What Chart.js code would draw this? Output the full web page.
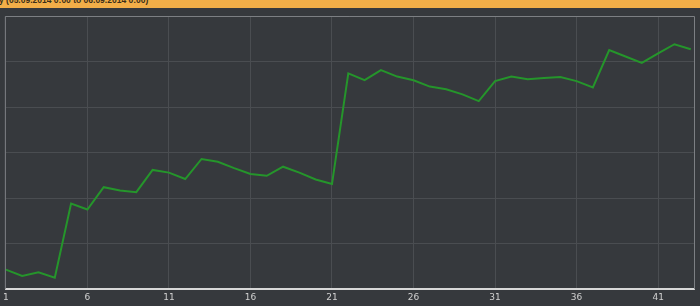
<!DOCTYPE html>
<html>
<head>
<meta charset="utf-8">
<script src="https://cdn.jsdelivr.net/npm/chart.js@4"></script>
<style>
  html, body { margin: 0; padding: 0; background: #36393d; }
  #wrap { position: relative; width: 700px; height: 306px; overflow: hidden; }
  #cabecera {
    position: absolute; left: 0; top: 0; width: 700px; height: 8px;
    background: #f2ae48; overflow: hidden; z-index: 2;
  }
  #cabecera span {
    position: absolute; left: -1px; top: -5px;
    font: bold 8.5px "Liberation Sans", sans-serif; color: #3a2e1a; white-space: nowrap;
  }
  canvas { position: absolute; left: 0; top: 0; }
</style>
</head>
<body>
<div id="wrap">
  <div id="cabecera"><span>y (05.09.2014 0:00 to 06.09.2014 0:00)</span></div>
  <canvas id="grafica" width="700" height="306"></canvas>
</div>
<script>
// Puntos 1..43
const puntos = [];
for (let i = 1; i <= 43; i++) puntos.push(i);

// Valores (eje sin etiquetas, unidades de rejilla)
const valores = [
  0.43, 0.29, 0.37, 0.25, 1.88, 1.75, 2.24, 2.17, 2.13, 2.62,
  2.56, 2.42, 2.86, 2.80, 2.66, 2.53, 2.49, 2.69, 2.56, 2.41,
  2.31, 4.74, 4.59, 4.81, 4.67, 4.59, 4.45, 4.39, 4.28, 4.13,
  4.57, 4.67, 4.61, 4.64, 4.66, 4.57, 4.43, 5.25, 5.11, 4.97,
  5.18, 5.38, 5.27
];

const marcasX = [1, 6, 11, 16, 21, 26, 31, 36, 41];

// Borde del área de la gráfica (arriba, derecha, izquierda)
const bordeArea = {
  id: "bordeArea",
  beforeDatasetsDraw(chart) {
    const { ctx, chartArea: a } = chart;
    ctx.save();
    ctx.strokeStyle = "#7c7f83";
    ctx.lineWidth = 1;
    ctx.beginPath();
    ctx.moveTo(a.left - 0.5, a.bottom);
    ctx.lineTo(a.left - 0.5, a.top + 0.5);
    ctx.lineTo(a.right + 0.5, a.top + 0.5);
    ctx.lineTo(a.right + 0.5, a.bottom);
    ctx.stroke();
    ctx.restore();
  }
};

new Chart(document.getElementById("grafica"), {
  type: "line",
  data: {
    datasets: [{
      data: puntos.map((p, i) => ({ x: p, y: valores[i] })),
      borderColor: "#25952b",
      borderWidth: 2,
      pointRadius: 0,
      tension: 0
    }]
  },
  options: {
    responsive: false,
    animation: false,
    layout: { padding: { left: 3, right: 6, top: 16, bottom: 0 } },
    plugins: { legend: { display: false }, tooltip: { enabled: false } },
    scales: {
      x: {
        type: "linear",
        min: 1,
        max: 43.2,
        afterBuildTicks: axis => { axis.ticks = marcasX.map(v => ({ value: v })); },
        grid: { color: "#4a4d51", lineWidth: 1, drawTicks: false },
        border: { color: "#d8d8d8", width: 2 },
        ticks: {
          color: "#d0d0d0",
          font: { family: "DejaVu Sans", size: 9 },
          padding: 3,
          maxRotation: 0,
          autoSkip: false
        }
      },
      y: {
        min: 0,
        max: 6,
        ticks: { display: false, stepSize: 1 },
        grid: { color: "#4a4d51", lineWidth: 1, drawTicks: false },
        border: { display: false }
      }
    }
  },
  plugins: [bordeArea]
});
</script>
</body>
</html>
